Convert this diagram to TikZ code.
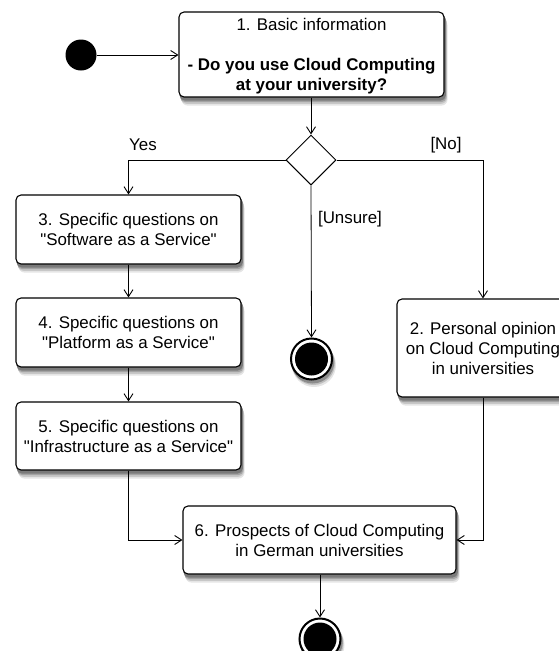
\documentclass[tikz,border=0pt]{standalone}
\usepackage{fontspec}
\setmainfont{Liberation Sans}
\usetikzlibrary{arrows.meta,shapes.geometric,backgrounds}

% multi-line label, set a little below the middle of its box
\newcommand\boxtext[1]{\raisebox{-2pt}[\height][\depth]{\begin{tabular}{@{}c@{}}#1\end{tabular}}}
\newcommand\dq{\textquotedbl}

% soft shadow behind a box or a circle: grey copies, lightest and farthest first
\newcommand\boxshadow[1]{%
  \fill[black!10, rounded corners=6pt] ([shift={(3,8)}]#1.north west) rectangle ([shift={(3,8)}]#1.south east);
  \fill[black!22, rounded corners=6pt] ([shift={(2.4,6.3)}]#1.north west) rectangle ([shift={(2.4,6.3)}]#1.south east);
  \fill[black!36, rounded corners=5pt] ([shift={(1.8,4.6)}]#1.north west) rectangle ([shift={(1.8,4.6)}]#1.south east);
  \fill[black!52, rounded corners=5pt] ([shift={(1.2,3)}]#1.north west) rectangle ([shift={(1.2,3)}]#1.south east);}
\newcommand\ringshadow[1]{%
  \fill[black!10] ([shift={(2.5,6)}]#1.center) circle (22pt);
  \fill[black!25] ([shift={(2,4.5)}]#1.center) circle (21.5pt);
  \fill[black!45] ([shift={(1.2,3)}]#1.center) circle (21.5pt);}

\tikzset{
  x=1pt, y=-1pt,
  txt/.style={font=\fontsize{16.9}{20}\selectfont},
  act/.style={txt, draw, line width=1.1pt, rounded corners=5pt, fill=white,
    inner sep=0pt},
  choice/.style={draw, line width=1pt, shape=diamond, aspect=1, inner sep=0pt,
    minimum size=50pt, fill=white},
  initial/.style={circle, fill=black, inner sep=0pt, minimum size=31pt},
  final/.style={circle, draw=black, line width=2pt, fill=white, inner sep=0pt,
    minimum size=41pt},
  flow/.style={draw, line width=0.8pt, -{Straight Barb[length=7pt,width=9pt,line width=0.9pt]}},
  guard/.style={txt, inner sep=0pt},
}

\begin{document}
\begin{tikzpicture}
\useasboundingbox (0,0) rectangle (559,651);

% activities
\node[act, minimum width=265pt, minimum height=85pt] (b1) at (311.5,54.5)
  {\boxtext{1. Basic information\\[20pt]\textbf{- Do you use Cloud Computing}\\\textbf{at your university?}}};
\node[act, minimum width=225pt, minimum height=69pt] (b3) at (128.5,229.5)
  {\boxtext{3. Specific questions on\\\dq Software as a Service\dq}};
\node[act, minimum width=225pt, minimum height=69pt] (b4) at (128.5,332.5)
  {\boxtext{4. Specific questions on\\\dq Platform as a Service\dq}};
\node[act, minimum width=225pt, minimum height=68pt] (b5) at (128.5,436)
  {\boxtext{5. Specific questions on\\\dq Infrastructure as a Service\dq}};
\node[act, minimum width=172pt, minimum height=98pt] (b2) at (483,348)
  {\boxtext{2. Personal opinion\\on Cloud Computing\\in universities}};
\node[act, minimum width=273pt, minimum height=68pt] (b6) at (319.5,540)
  {\boxtext{6. Prospects of Cloud Computing\\in German universities}};

% decision, start and end points
\node[choice] (dec) at (311,160) {};
\node[initial] (start) at (81,55) {};
\node[final] (e1) at (311.5,359) {};
\fill (e1.center) circle (16.5pt);
\node[final] (e2) at (320,639) {};
\fill (e2.center) circle (16.5pt);

% shadows go behind everything
\begin{scope}[on background layer]
  \boxshadow{b1}
  \boxshadow{b2}
  \boxshadow{b3}
  \boxshadow{b4}
  \boxshadow{b5}
  \boxshadow{b6}
  \ringshadow{e1}
  \ringshadow{e2}
\end{scope}

% guards
\node[guard] (yes) at (143,145) {Yes};
\node[guard] (no) at (446,145) {[No]};
\node[guard] (unsure) at (350,219) {[Unsure]};

% control flow
\draw[flow] (start) -- (b1.west |- start);
\draw[flow] (b1.south -| dec) -- (dec.north);
\draw[flow] (dec.west) -| (b3.north);
\draw[flow] (dec.east) -| (b2.north);
\draw[flow] (dec.south) -- (e1.north);
\draw[flow] (b3) -- (b4);
\draw[flow] (b4) -- (b5);
\draw[flow] (b5.south) |- (b6.west);
\draw[flow] (b2.south) |- (b6.east);
\draw[flow] (b6.south -| e2) -- (e2.north);
\end{tikzpicture}
\end{document}
